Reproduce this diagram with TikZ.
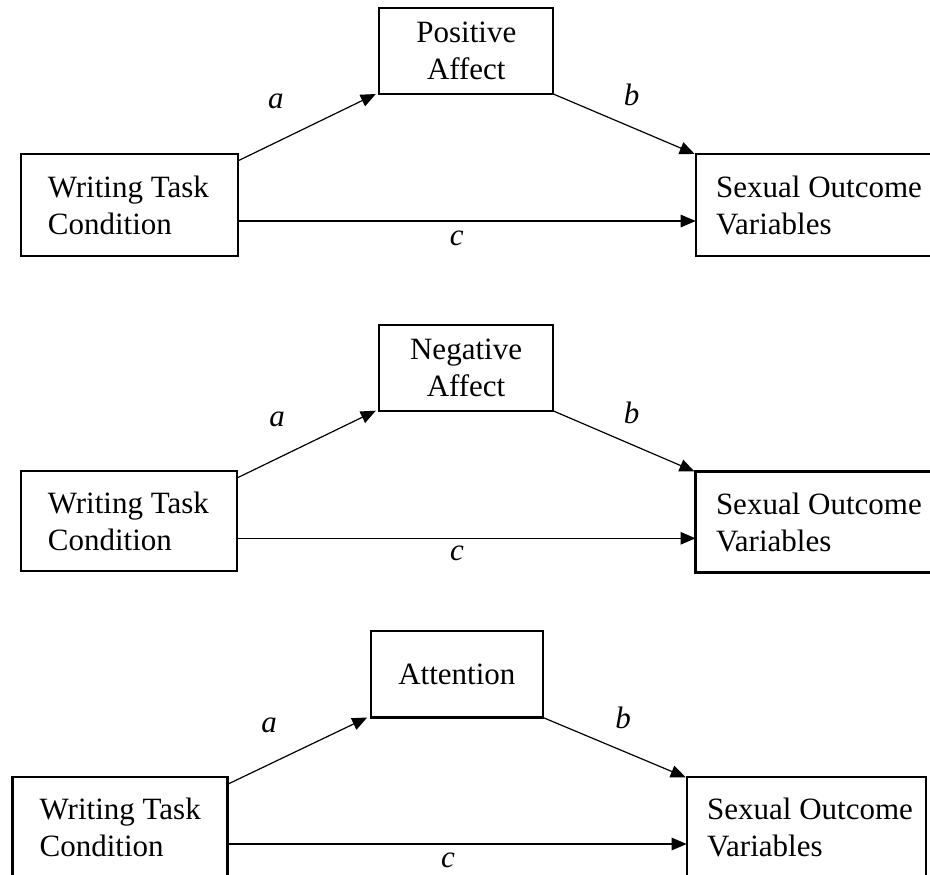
\documentclass[tikz,border=0pt]{standalone}
\usepackage{fontspec}
\setmainfont{Liberation Serif}
\usetikzlibrary{arrows.meta}
\begin{document}
\begin{tikzpicture}[x=1pt,y=-1pt,
  boxnode/.style={draw, line width=2.3pt, rectangle, inner sep=0pt, outer sep=0pt, anchor=north west},
  openbox/.style={rectangle, inner sep=0pt, outer sep=0pt, anchor=north west},
  boxline/.style={line width=2.3pt, line cap=butt},
  medbox/.style={boxnode, align=center, inner sep=2pt, font=\fontsize{31}{37}\selectfont},
  boxtext/.style={anchor=west, align=left, inner sep=0pt, font=\fontsize{31}{37}\selectfont},
  arr/.style={line width=1.2pt, -{Triangle[length=15pt,width=12.5pt]}},
  lab/.style={font=\fontsize{31}{37}\selectfont\itshape, inner sep=0pt}
]
\useasboundingbox (0,0) rectangle (930,875);

% ---------- Diagram 1 ----------
\node[boxnode, minimum width=217pt, minimum height=102pt] (w1) at (20.7,154) {};
\node[boxtext] (w1t) at ([xshift=27pt,yshift=-51pt]w1.north west) {Writing Task\\Condition};
\node[medbox, minimum width=174pt, minimum height=85.7pt] (m1) at (379.3,8.3) {Positive\\Affect};
\node[openbox, minimum width=234.3pt, minimum height=102pt] (s1) at (695.7,154) {};
\draw[boxline] (s1.north east) -- (s1.north west) -- (s1.south west) -- (s1.south east);
\node[boxtext] (s1t) at ([xshift=20.3pt,yshift=-51pt]s1.north west) {Sexual Outcome\\Variables};
\draw[arr] ([yshift=-7pt]w1.north east) -- ([xshift=-3.5pt]m1.south west);
\draw[arr] (m1.south east) -- ([xshift=-1pt]s1.north west);
\coordinate (c1s) at ([yshift=-67pt]w1.north east);
\draw[arr] (c1s) -- (c1s -| s1.west);
\node[lab] (a1) at (275.8,101.7) {a};
\node[lab] (b1) at (631.7,95) {b};
\node[lab] (cc1) at (456.7,238.3) {c};

% ---------- Diagram 2 ----------
\node[boxnode, minimum width=216.3pt, minimum height=100pt] (w2) at (20.7,471) {};
\node[boxtext] (w2t) at ([xshift=27pt,yshift=-50pt]w2.north west) {Writing Task\\Condition};
\node[medbox, minimum width=173.5pt, minimum height=86pt] (m2) at (379.3,324.7) {Negative\\Affect};
\node[openbox, minimum width=234.5pt, minimum height=101pt] (s2) at (695.5,471.5) {};
\draw[boxline] (s2.north east) -- (s2.north west) -- (s2.south west) -- (s2.south east);
\node[boxtext] (s2t) at ([xshift=20.3pt,yshift=-50.5pt]s2.north west) {Sexual Outcome\\Variables};
\draw[arr] ([yshift=-7pt]w2.north east) -- ([xshift=-3.5pt]m2.south west);
\draw[arr] (m2.south east) -- ([xshift=-1pt]s2.north west);
\coordinate (c2s) at ([yshift=-67.3pt]w2.north east);
\draw[arr] (c2s) -- (c2s -| s2.west);
\node[lab] (a2) at (277,419) {a};
\node[lab] (b2) at (631.7,413.3) {b};
\node[lab] (cc2) at (457,553.3) {c};

% ---------- Diagram 3 ----------
\node[openbox, minimum width=215pt, minimum height=97.7pt] (w3) at (12.5,777.3) {};
\draw[boxline] (w3.south west) -- (w3.north west) -- (w3.north east) -- (w3.south east);
\node[boxtext] (w3t) at ([xshift=27pt,yshift=-50pt]w3.north west) {Writing Task\\Condition};
\node[medbox, minimum width=172.3pt, minimum height=86.5pt] (m3) at (370.7,631) {Attention};
\node[openbox, minimum width=239.3pt, minimum height=97.7pt] (s3) at (686.7,777.3) {};
\draw[boxline] (s3.south west) -- (s3.north west) -- (s3.north east) -- (s3.south east);
\node[boxtext] (s3t) at ([xshift=20.3pt,yshift=-50pt]s3.north west) {Sexual Outcome\\Variables};
\draw[arr] ([yshift=-7pt]w3.north east) -- ([xshift=-3.5pt]m3.south west);
\draw[arr] (m3.south east) -- ([xshift=-1pt]s3.north west);
\coordinate (c3s) at ([yshift=-66.7pt]w3.north east);
\draw[arr] (c3s) -- (c3s -| s3.west);
\node[lab] (a3) at (269,725) {a};
\node[lab] (b3) at (623,718) {b};
\node[lab] (cc3) at (448,860) {c};
\end{tikzpicture}
\end{document}
